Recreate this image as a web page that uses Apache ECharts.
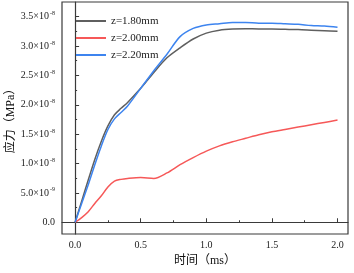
<!DOCTYPE html>
<html>
<head>
<meta charset="utf-8">
<script src="https://cdn.jsdelivr.net/npm/echarts@6/dist/echarts.min.js"></script>
<style>
  html, body { margin: 0; padding: 0; background: #fff; }
  #chart { width: 354px; height: 273px; }
</style>
</head>
<body>
<div id="chart"></div>
<script>
// time in ms, stress in units of 1e-8 MPa
const times = [0, 0.05, 0.1, 0.15, 0.2, 0.25, 0.3, 0.35, 0.4, 0.5, 0.6, 0.7, 0.8, 0.9,
  1.0, 1.1, 1.2, 1.3, 1.4, 1.5, 1.6, 1.7, 1.8, 1.9, 2.0];
const z180 = [0, 0.36, 0.72, 1.07, 1.38, 1.64, 1.83, 1.94, 2.04, 2.28, 2.55, 2.80, 2.97, 3.12,
  3.22, 3.27, 3.29, 3.295, 3.29, 3.29, 3.285, 3.28, 3.27, 3.26, 3.25];
const z200 = [0, 0.08, 0.18, 0.32, 0.45, 0.60, 0.70, 0.73, 0.745, 0.76, 0.745, 0.84, 0.98, 1.10,
  1.21, 1.30, 1.37, 1.43, 1.49, 1.54, 1.58, 1.62, 1.66, 1.70, 1.74];
const z220 = [0, 0.32, 0.64, 0.98, 1.30, 1.58, 1.76, 1.87, 1.98, 2.28, 2.58, 2.86, 3.16, 3.30,
  3.36, 3.38, 3.40, 3.40, 3.39, 3.39, 3.38, 3.37, 3.35, 3.34, 3.32];
const seriesNames = ["z=1.80mm", "z=2.00mm", "z=2.20mm"];
const colors = ["#5f5f5f", "#f65858", "#3d84ef"];

const xMajor = [0, 0.5, 1.0, 1.5, 2.0];
const xMinor = [0.25, 0.75, 1.25, 1.75];
const yMajor = [0, 0.5, 1.0, 1.5, 2.0, 2.5, 3.0, 3.5];
const yMinor = [0.25, 0.75, 1.25, 1.75, 2.25, 2.75, 3.25];

const serif = "'Liberation Serif', 'Times New Roman', serif";
const titleFont = "'Liberation Serif', 'Noto Sans CJK SC', serif";
const axisColor = "#3a3a3a";

const yLabel = (v) => {
  if (Math.abs(v) < 1e-9) return "{b|0.0}";
  if (Math.abs(v - 0.5) < 1e-9) return "{b|5.0×10}{s|-9}";
  return "{b|" + v.toFixed(1) + "×10}{s|-8}";
};

const chart = echarts.init(document.getElementById("chart"));

const pair = (ys) => times.map((t, i) => [t, ys[i]]);

const option = {
  animation: false,
  backgroundColor: "#fff",
  grid: {
    left: 62, right: 6, top: 2, bottom: 39,
    outerBoundsMode: "none",
    containLabel: false,
    show: true, borderColor: axisColor, borderWidth: 1.2
  },
  legend: {
    orient: "vertical",
    left: 71,
    top: 9,
    itemWidth: 30,
    itemHeight: 2,
    itemGap: 3,
    icon: "rect",
    data: seriesNames,
    textStyle: { fontFamily: serif, fontSize: 11, color: "#222", lineHeight: 14 }
  },
  xAxis: [
    {
      type: "value",
      min: -0.1,
      max: 2.08,
      name: "时间（ms）",
      nameLocation: "middle",
      nameGap: 21,
      nameMoveOverlap: false,
      nameTextStyle: { fontFamily: titleFont, fontSize: 12, color: "#111" },
      axisLine: { show: true, lineStyle: { color: axisColor, width: 1.2 } },
      axisTick: { show: true, inside: true, length: 4, customValues: xMajor, lineStyle: { color: axisColor } },
      axisLabel: { customValues: xMajor, margin: 6, fontFamily: serif, fontSize: 10, color: "#222",
        formatter: (v) => v.toFixed(1) },
      splitLine: { show: false }
    },
    {
      type: "value",
      position: "bottom",
      min: -0.1,
      max: 2.08,
      axisLine: { show: false },
      axisTick: { show: true, inside: true, length: 2, customValues: xMinor, lineStyle: { color: axisColor } },
      axisLabel: { show: false },
      splitLine: { show: false }
    }
  ],
  yAxis: [
    {
      type: "value",
      min: -0.2,
      max: 3.75,
      name: "应力（MPa）",
      nameLocation: "middle",
      nameGap: 45,
      nameMoveOverlap: false,
      nameTextStyle: { fontFamily: titleFont, fontSize: 12, color: "#111" },
      axisLine: { show: true, lineStyle: { color: axisColor, width: 1.2 } },
      axisTick: { show: true, inside: true, length: 4, customValues: yMajor, lineStyle: { color: axisColor } },
      axisLabel: {
        customValues: yMajor,
        margin: 7,
        formatter: yLabel,
        rich: {
          b: { fontFamily: serif, fontSize: 10, color: "#222", lineHeight: 12 },
          s: { fontFamily: serif, fontSize: 6, color: "#222", lineHeight: 12, verticalAlign: "top", padding: [0, 0, 4, 1] }
        }
      },
      splitLine: { show: false }
    },
    {
      type: "value",
      position: "left",
      min: -0.2,
      max: 3.75,
      axisLine: { show: false },
      axisTick: { show: true, inside: true, length: 2, customValues: yMinor, lineStyle: { color: axisColor } },
      axisLabel: { show: false },
      splitLine: { show: false }
    }
  ],
  series: [z180, z200, z220].map((ys, i) => ({
    name: seriesNames[i],
    type: "line",
    data: pair(ys),
    smooth: 0.3,
    showSymbol: false,
    symbol: "none",
    color: colors[i],
    lineStyle: { color: colors[i], width: 1.5 }
  }))
};

chart.setOption(option);
</script>
</body>
</html>
